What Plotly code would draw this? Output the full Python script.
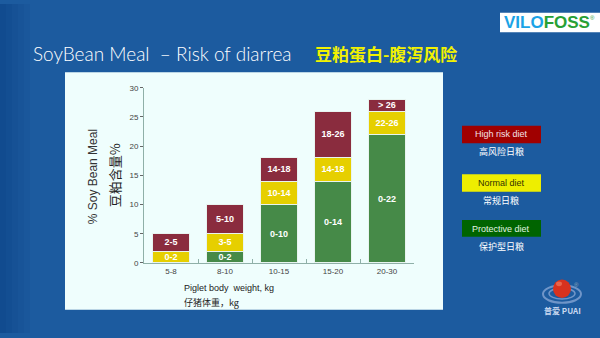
import plotly.graph_objects as go

# Weight classes and soybean-meal limits (% of diet) per diet type
weights = ["5-8", "8-10", "10-15", "15-20", "20-30"]
protective_top = [0, 2, 10, 14, 22]
normal_top = [2, 5, 14, 18, 26]
high_risk_top = [5, 10, 18, 26, 28]
protective_labels = ["", "0-2", "0-10", "0-14", "0-22"]
normal_labels = ["0-2", "3-5", "10-14", "14-18", "22-26"]
high_risk_labels = ["2-5", "5-10", "14-18", "18-26", "> 26"]

W, H = 600, 338


def px(x):
    return x / W


def py(y):
    return 1 - y / H


green_h = protective_top
yellow_h = [n - p for n, p in zip(normal_top, protective_top)]
red_h = [r - n for r, n in zip(high_risk_top, normal_top)]

GREEN = "#468a48"
YELLOW = "#e6cf00"
MAROON = "#8a2c3e"

fig = go.Figure()
for vals, labels, color in [
    (green_h, protective_labels, GREEN),
    (yellow_h, normal_labels, YELLOW),
    (red_h, high_risk_labels, MAROON),
]:
    fig.add_trace(go.Bar(
        x=weights, y=vals, text=labels,
        marker=dict(color=color, line=dict(color="#e8f4f0", width=1)),
        textposition="inside", insidetextanchor="middle", textangle=0,
        constraintext="none",
        textfont=dict(family="Liberation Sans", size=9, color="white", weight="bold"),
        width=0.7, hoverinfo="skip",
    ))

shapes = []
# soft darker shading along the left edge of the slide
for w, op in [(30, 0.1), (24, 0.1), (18, 0.12), (12, 0.14), (6, 0.16)]:
    shapes.append(dict(type="rect", xref="paper", yref="paper", x0=0, x1=px(w), y0=0, y1=1,
                       fillcolor="#0a3f80", opacity=op, line=dict(width=0), layer="below"))
shapes += [
    # light chart panel
    dict(type="rect", xref="paper", yref="paper", x0=px(65), x1=px(443),
         y0=py(314), y1=py(70), fillcolor="#effefd", line=dict(width=0), layer="below"),
    # logo box
    dict(type="rect", xref="paper", yref="paper", x0=px(500), x1=1, y0=py(29), y1=py(9),
         fillcolor="white", line=dict(width=0)),
    # legend boxes
    dict(type="rect", xref="paper", yref="paper", x0=px(462), x1=px(541), y0=py(143), y1=py(125),
         fillcolor="#a00000", line=dict(width=0)),
    dict(type="rect", xref="paper", yref="paper", x0=px(462), x1=px(541), y0=py(193), y1=py(175),
         fillcolor="#eeee00", line=dict(width=0)),
    dict(type="rect", xref="paper", yref="paper", x0=px(462), x1=px(541), y0=py(239), y1=py(222),
         fillcolor="#006400", line=dict(width=0)),
    # PUAI emblem: rings and sphere
    dict(type="circle", xref="paper", yref="paper", x0=px(543), x1=px(581), y0=py(307), y1=py(289),
         fillcolor="rgba(0,0,0,0)", line=dict(color="#6f95c8", width=2)),
    dict(type="circle", xref="paper", yref="paper", x0=px(549), x1=px(575), y0=py(303), y1=py(292),
         fillcolor="rgba(0,0,0,0)", line=dict(color="#6f95c8", width=1.5)),
    dict(type="circle", xref="paper", yref="paper", x0=px(553), x1=px(571), y0=py(302), y1=py(283),
         fillcolor="#d8321e", line=dict(width=0)),
    dict(type="circle", xref="paper", yref="paper", x0=px(556), x1=px(562), y0=py(290), y1=py(285),
         fillcolor="#f07a60", opacity=0.7, line=dict(width=0)),
]

ann = []


def text(x, y, s, size, color, family="Liberation Sans", anchor="center", weight="normal", angle=0):
    ann.append(dict(x=px(x), y=py(y), xref="paper", yref="paper", text=s, showarrow=False,
                    xanchor=anchor, yanchor="middle", textangle=angle,
                    font=dict(family=family, size=size, color=color, weight=weight)))


text(31, 51, "SoyBean Meal  – Risk of diarrea", 19, "white", family="Lato", anchor="left", weight=300)
text(313, 51, "豆粕蛋白-腹泻风险", 17, "#f2f200", family="Noto Sans CJK SC", anchor="left", weight="bold")
text(547, 19, "<span style='color:#1ba3e6'>VILO</span><span style='color:#28a035'>FOSS</span>", 17,
     "#1ba3e6", family="Liberation Sans", weight="bold")
text(592, 14, "®", 6, "#28a035")

# axis titles
text(93, 178, "% Soy Bean Meal", 12, "#333333", angle=-90)
text(114, 176, "豆粕含量%", 13, "#222222", family="Noto Sans CJK SC", angle=-90)
text(182, 292, "Piglet body  weight, kg", 9, "#222222", anchor="left")
text(182, 307, "仔猪体重，kg", 9, "#222222", family="Noto Sans CJK SC", anchor="left")

# legend
text(501, 134, "High risk diet", 9, "#f4e0e8")
text(501, 152, "高风险日粮", 9, "white", family="Noto Sans CJK SC")
text(501, 184, "Normal diet", 9, "#333300")
text(501, 202, "常规日粮", 9, "white", family="Noto Sans CJK SC")
text(501, 231, "Protective diet", 9, "#e0f4e0")
text(501, 249, "保护型日粮", 9, "white", family="Noto Sans CJK SC")

# PUAI wordmark
text(562, 315, "普爱 PUAI", 8, "#c8d8f0", family="Noto Sans CJK SC", weight="bold")
text(576, 289, "®", 6, "#9aa8b8")

axis_color = "#8fb0a8"
fig.update_layout(
    width=W, height=H, margin=dict(l=0, r=0, t=0, b=0),
    paper_bgcolor="#1c5b9f", plot_bgcolor="rgba(0,0,0,0)",
    barmode="stack", showlegend=False,
    shapes=shapes, annotations=ann,
    xaxis=dict(domain=[px(144), px(414)], range=[-0.5, 4.5], showgrid=False,
               showline=True, linecolor=axis_color, linewidth=1,
               ticks="inside", tickson="boundaries", ticklen=4, tickcolor=axis_color,
               tickfont=dict(family="Liberation Sans", size=8, color="#444444"),
               fixedrange=True),
    yaxis=dict(domain=[py(266), py(86)], range=[0, 30], showgrid=False, zeroline=False,
               showline=True, linecolor=axis_color, linewidth=1,
               tickvals=[0, 5, 10, 15, 20, 25, 30], ticks="outside", ticklen=3,
               tickcolor="#666666",
               tickfont=dict(family="Liberation Sans", size=8, color="#444444"),
               fixedrange=True),
)

fig.write_html("out.html")
